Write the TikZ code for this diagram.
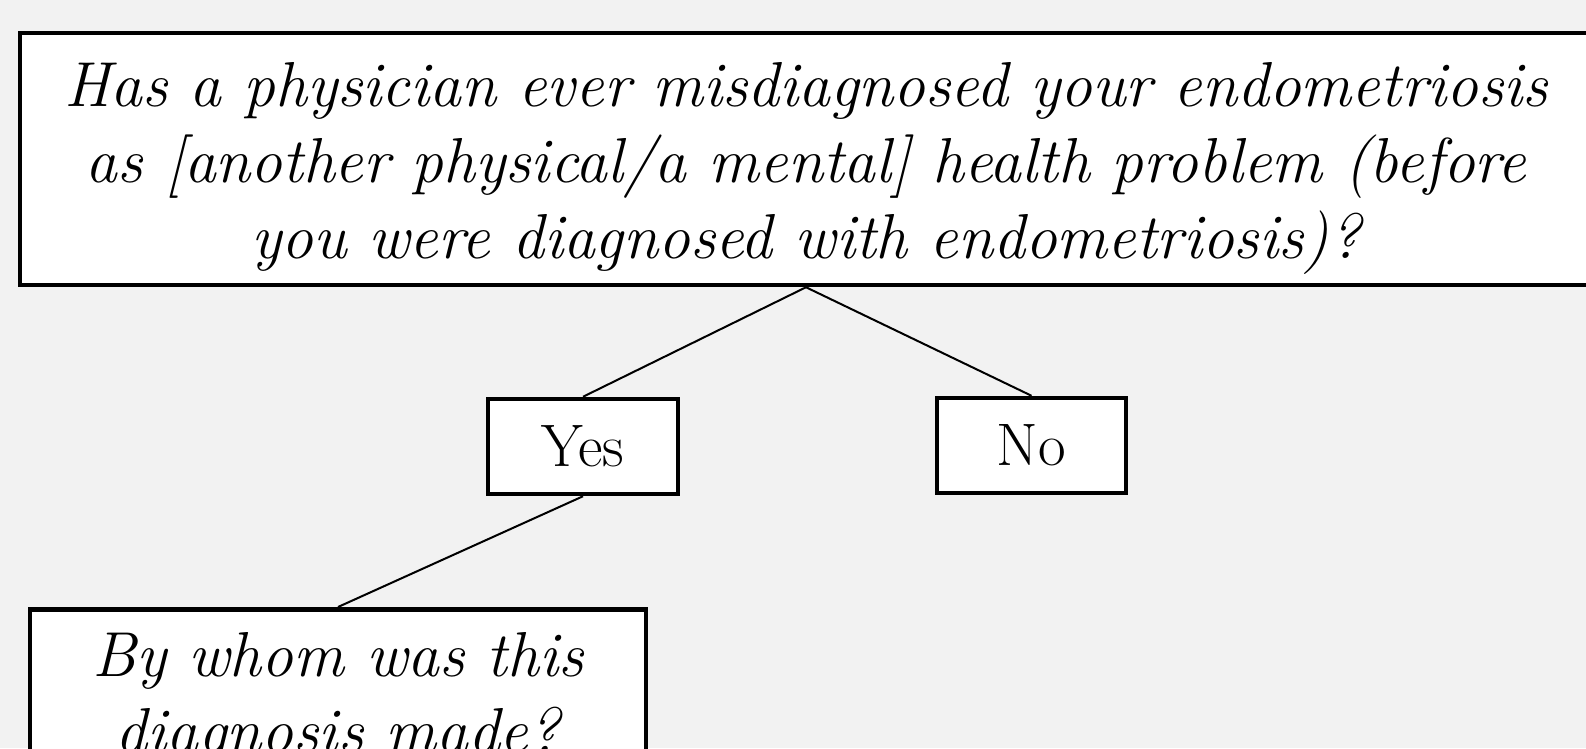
\documentclass[tikz,border=0pt]{standalone}
\usepackage{fontspec}
\definecolor{bgcol}{HTML}{F2F2F2}
\begin{document}
\begin{tikzpicture}[x=1pt,y=-1pt,
  box/.style={draw=black, line width=4.5pt, fill=white, inner sep=0pt},
  conn/.style={draw=black, line width=2pt},
  qtext/.style={font=\fontsize{63.5}{76}\selectfont\itshape, align=center},
  atext/.style={font=\fontsize{60}{76}\selectfont}]
\fill[bgcol] (0,0) rectangle (1586,748);
\useasboundingbox (0,0) rectangle (1586,748);
\clip (0,0) rectangle (1586,748);
\node[box, qtext, minimum width=1572, minimum height=252] (q) at (806,159)
  {\rule{0pt}{62pt}Has a physician ever misdiagnosed your endometriosis\\
   as [another physical/a mental] health problem (before\\
   you were diagnosed with endometriosis)?};
\node[box, atext, minimum width=190, minimum height=95] (yes) at (583,446.5) {Yes};
\node[box, atext, minimum width=189, minimum height=95] (no) at (1031.5,445.5) {No};
\node[box, qtext, anchor=north, minimum width=616, minimum height=180] (who) at (338,607)
  {By whom was this\\ diagnosis made?};
\draw[conn] (q.south) -- (yes.north);
\draw[conn] (q.south) -- (no.north);
\draw[conn] (yes.south) -- (who.north);
\end{tikzpicture}
\end{document}
